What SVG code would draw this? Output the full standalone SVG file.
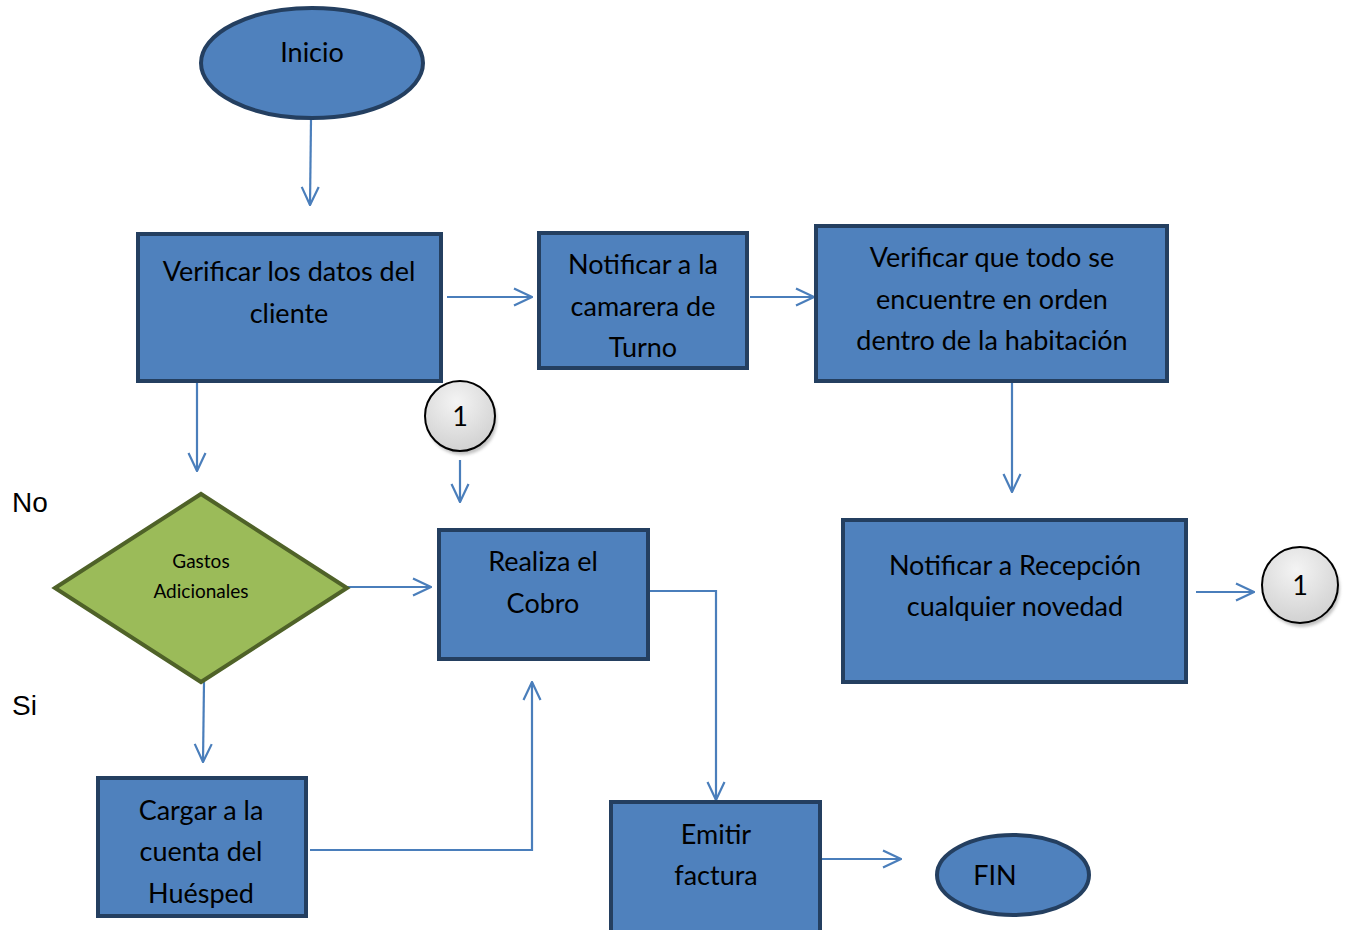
<svg xmlns="http://www.w3.org/2000/svg" width="1352" height="930" viewBox="0 0 1352 930">
  <style>
    .box { fill: #4F81BD; stroke: #243F60; stroke-width: 4; }
    .dec { fill: #9BBB59; stroke: #4F6228; stroke-width: 4; }
    .conn { fill: none; stroke: #4A7EBB; stroke-width: 2.2; }
    .lbl { font-family: Lato, "Open Sans", sans-serif; font-size: 27px; fill: #000; text-anchor: middle; }
    .sm { font-size: 19px; }
    .side { font-family: "Liberation Sans", Arial, sans-serif; font-size: 28px; fill: #000; }
    .ref { fill: url(#refGrad); stroke: #000; stroke-width: 2; }
    .refsh { fill: #9a9a9a; opacity: 0.6; filter: url(#soft); }
  </style>
  <defs>
    <marker id="arr" viewBox="0 0 20 20" refX="19" refY="10" markerWidth="20" markerHeight="20" markerUnits="userSpaceOnUse" orient="auto">
      <path d="M1,1.5 L19,10 L1,18.5" fill="none" stroke="#4A7EBB" stroke-width="2.2"/>
    </marker>
    <radialGradient id="refGrad" cx="0.45" cy="0.3" r="0.75">
      <stop offset="0" stop-color="#f4f4f4"/>
      <stop offset="1" stop-color="#cfcfcf"/>
    </radialGradient>
    <filter id="soft" x="-20%" y="-20%" width="140%" height="140%">
      <feGaussianBlur stdDeviation="1.5"/>
    </filter>
  </defs>

  <!-- connectors -->
  <g id="connectors">
    <path class="conn" d="M311,120 L310,205" marker-end="url(#arr)"/>
    <path class="conn" d="M447,297 L532,297" marker-end="url(#arr)"/>
    <path class="conn" d="M750,297 L814,297" marker-end="url(#arr)"/>
    <path class="conn" d="M1012,370 L1012,492" marker-end="url(#arr)"/>
    <path class="conn" d="M1196,592 L1254,592" marker-end="url(#arr)"/>
    <path class="conn" d="M197,381 L197,471" marker-end="url(#arr)"/>
    <path class="conn" d="M460,460 L460,502" marker-end="url(#arr)"/>
    <path class="conn" d="M347,587 L431,587" marker-end="url(#arr)"/>
    <path class="conn" d="M648,591 L716,591 L716,800" marker-end="url(#arr)"/>
    <path class="conn" d="M204,682 L203,762" marker-end="url(#arr)"/>
    <path class="conn" d="M310,850 L532,850 L532,682" marker-end="url(#arr)"/>
    <path class="conn" d="M818,859 L901,859" marker-end="url(#arr)"/>
  </g>

  <g id="inicio">
    <ellipse class="box" cx="312" cy="63" rx="111" ry="55"/>
    <text class="lbl" x="312" y="62">Inicio</text>
  </g>

  <g id="verificar-datos">
    <rect class="box" x="138" y="234" width="303" height="147"/>
    <text class="lbl" x="289" y="281">Verificar los datos del</text>
    <text class="lbl" x="289" y="323">cliente</text>
  </g>

  <g id="notificar-camarera">
    <rect class="box" x="539" y="233" width="208" height="135"/>
    <text class="lbl" x="643" y="274">Notificar a la</text>
    <text class="lbl" x="643" y="316">camarera de</text>
    <text class="lbl" x="643" y="357">Turno</text>
  </g>

  <g id="verificar-habitacion">
    <rect class="box" x="816" y="226" width="351" height="155"/>
    <text class="lbl" x="992" y="267">Verificar que todo se</text>
    <text class="lbl" x="992" y="309">encuentre en orden</text>
    <text class="lbl" x="992" y="350">dentro de la habitación</text>
  </g>

  <g id="notificar-recepcion">
    <rect class="box" x="843" y="520" width="343" height="162"/>
    <text class="lbl" x="1015" y="575">Notificar a Recepción</text>
    <text class="lbl" x="1015" y="616">cualquier novedad</text>
  </g>

  <g id="ref-out">
    <circle class="refsh" cx="1302" cy="589" r="38"/>
    <circle class="ref" cx="1300" cy="585" r="38"/>
    <text class="lbl" x="1300" y="595">1</text>
  </g>

  <g id="ref-in">
    <circle class="refsh" cx="462" cy="420" r="35"/>
    <circle class="ref" cx="460" cy="416" r="35"/>
    <text class="lbl" x="460" y="426">1</text>
  </g>

  <g id="gastos">
    <polygon class="dec" points="55,588 201,494 347,588 201,682"/>
    <text class="lbl sm" x="201" y="568">Gastos</text>
    <text class="lbl sm" x="201" y="598">Adicionales</text>
  </g>

  <text class="side" x="12" y="512">No</text>
  <text class="side" x="12" y="715">Si</text>

  <g id="realiza-cobro">
    <rect class="box" x="439" y="530" width="209" height="129"/>
    <text class="lbl" x="543" y="571">Realiza el</text>
    <text class="lbl" x="543" y="613">Cobro</text>
  </g>

  <g id="cargar-cuenta">
    <rect class="box" x="98" y="778" width="208" height="138"/>
    <text class="lbl" x="201" y="820">Cargar a la</text>
    <text class="lbl" x="201" y="861">cuenta del</text>
    <text class="lbl" x="201" y="903">Huésped</text>
  </g>

  <g id="emitir-factura">
    <rect class="box" x="611" y="802" width="209" height="140"/>
    <text class="lbl" x="716" y="844">Emitir</text>
    <text class="lbl" x="716" y="885">factura</text>
  </g>

  <g id="fin">
    <ellipse class="box" cx="1013" cy="875" rx="76" ry="40"/>
    <text class="lbl" x="995" y="885">FIN</text>
  </g>
</svg>
